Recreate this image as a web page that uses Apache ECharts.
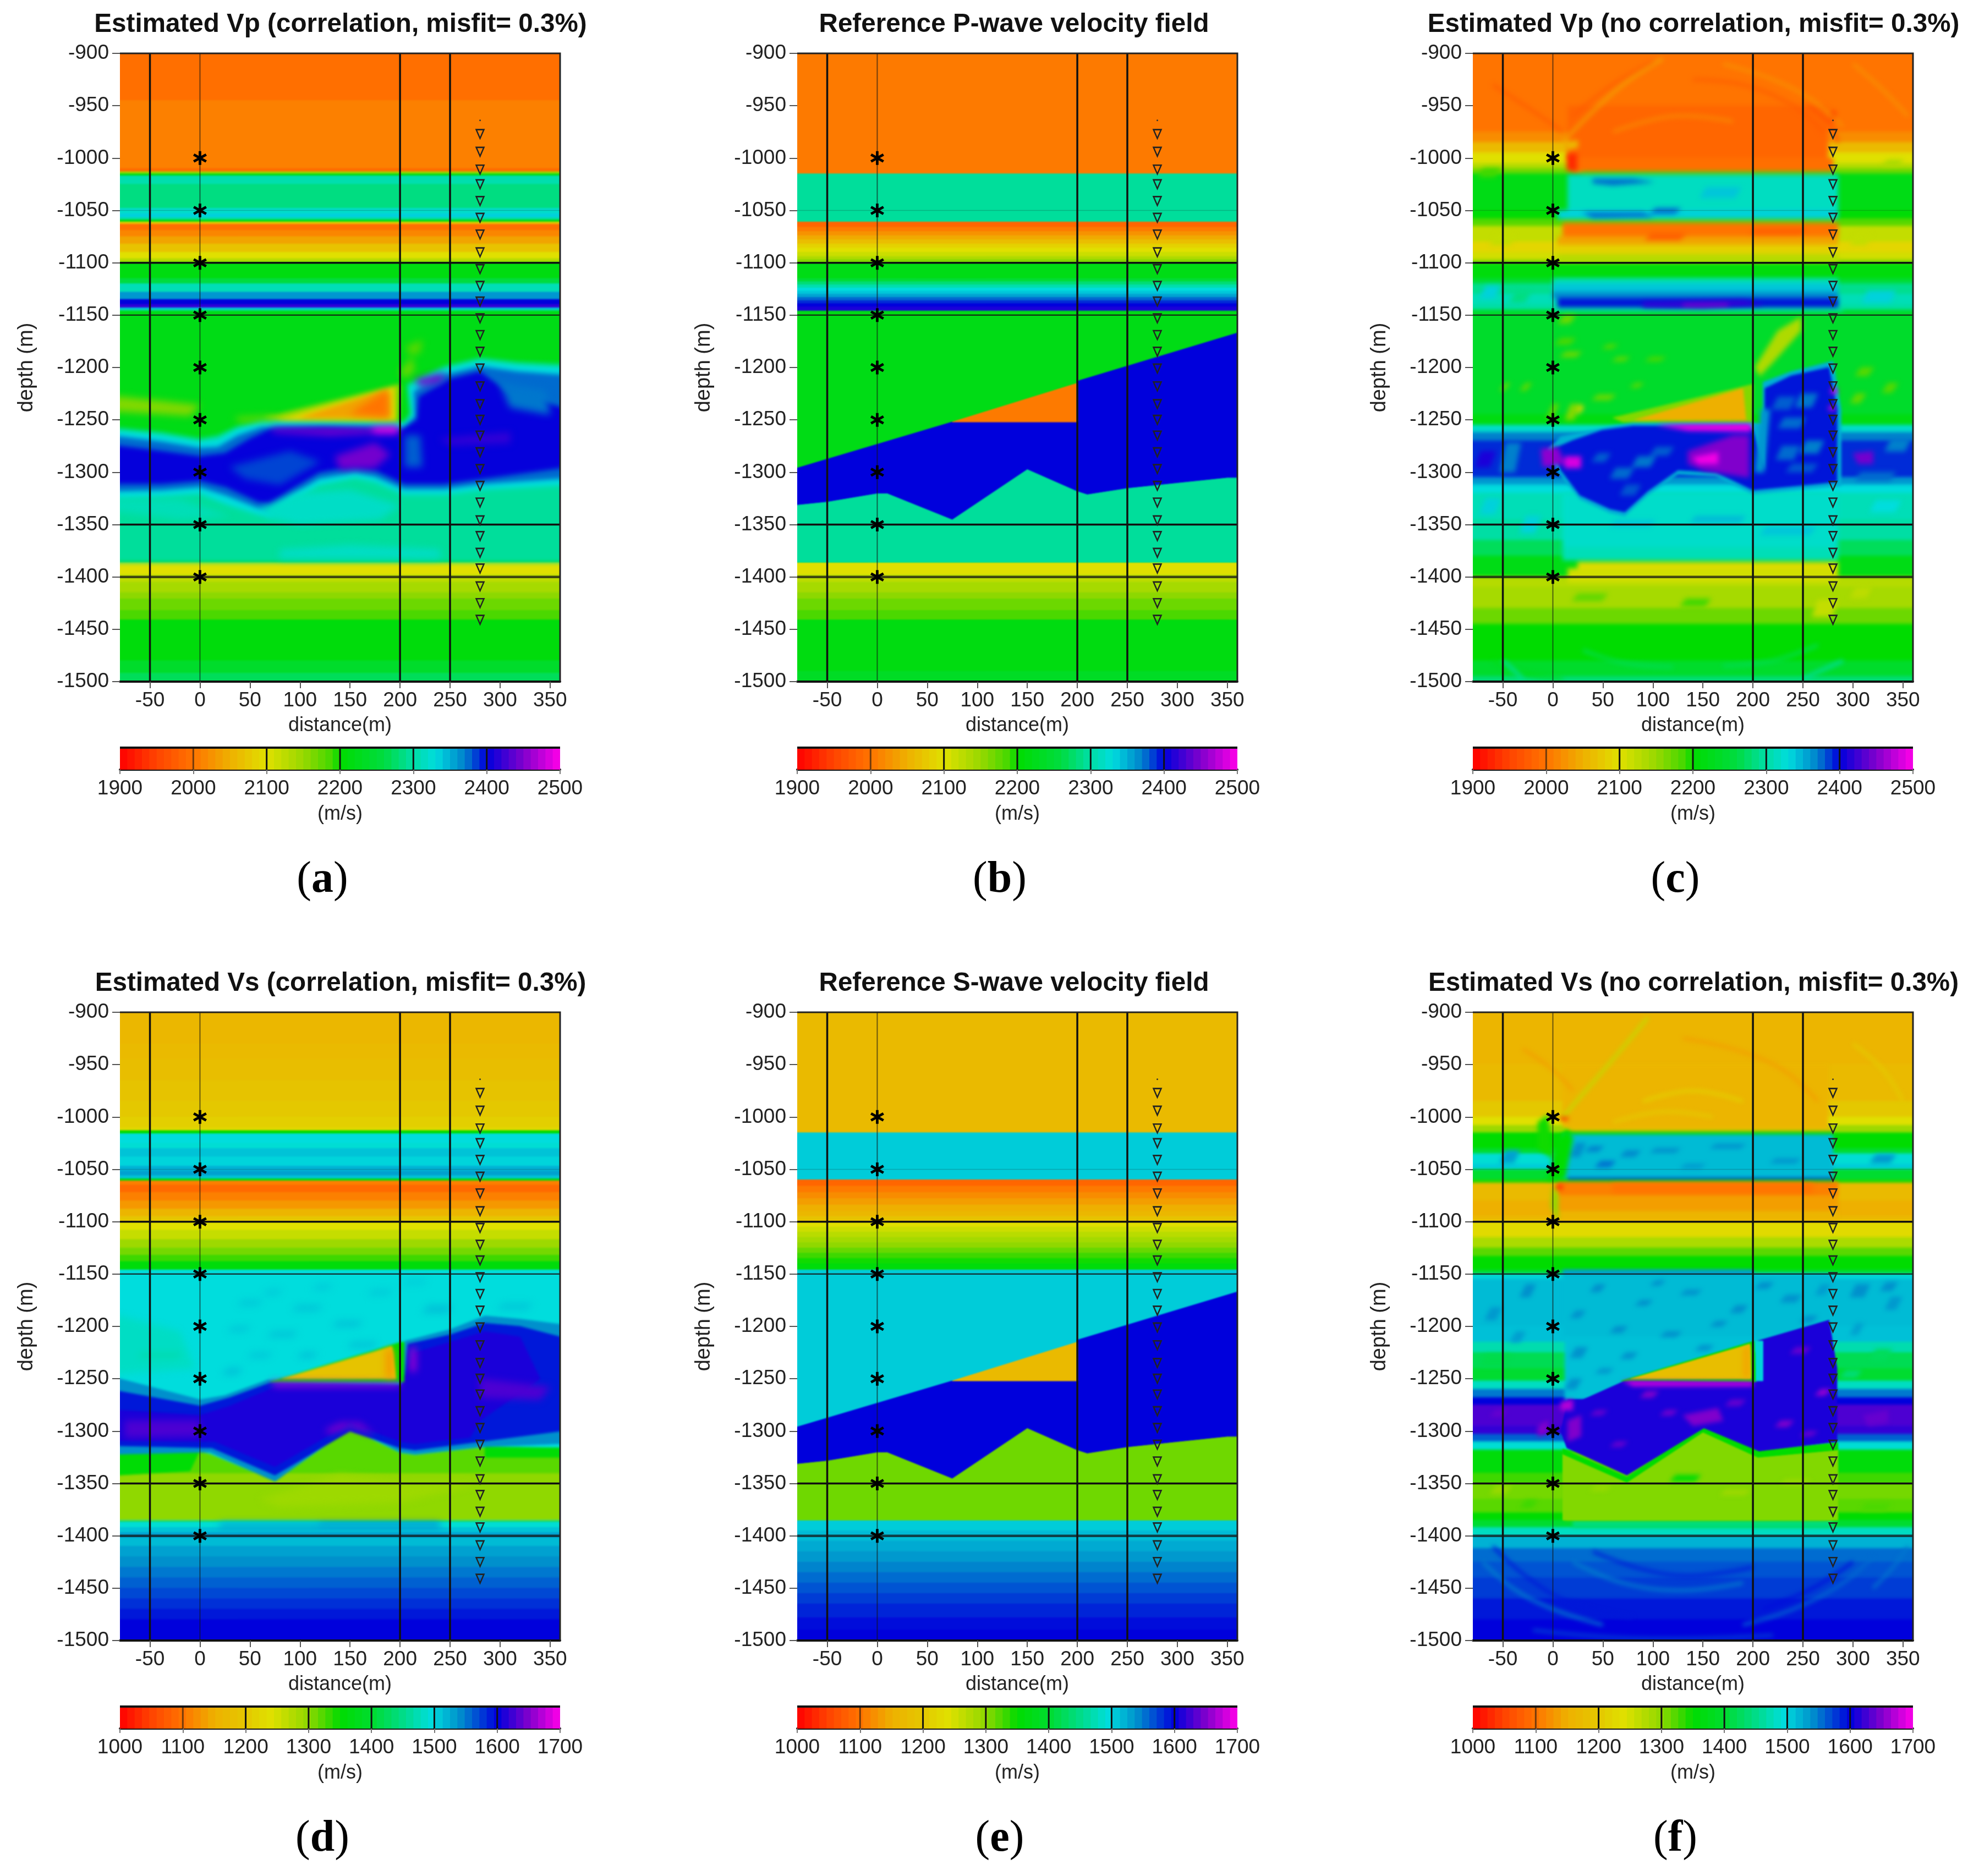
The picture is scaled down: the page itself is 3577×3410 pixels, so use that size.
<!DOCTYPE html>
<html>
<head>
<meta charset="utf-8">
<title>Velocity fields</title>
<script src="https://cdn.jsdelivr.net/npm/echarts@6/dist/echarts.min.js"></script>
<style>
	html, body {margin: 0; padding: 0; background: #fff;}
	#page {position: relative; width: 3577px; height: 3410px; overflow: hidden;}
	#main {position: absolute; left: 0; top: 0; width: 3577px; height: 3410px; z-index: 2;}
	.field {position: absolute; overflow: hidden; z-index: 1;}
	.layer {position: absolute;}
</style>
</head>
<body>
<div id="page"><div id="main"></div></div>
<script>
// tick labels
const xTicks = [-50, 0, 50, 100, 150, 200, 250, 300, 350];
const vpTicks = [1900, 2000, 2100, 2200, 2300, 2400, 2500];
const vsTicks = [1000, 1100, 1200, 1300, 1400, 1500, 1600, 1700];

// sources and receivers
const sourceDepths = [-1000, -1050, -1100, -1150, -1200, -1250, -1300, -1350, -1400];
const receiverDepths = [-977, -994, -1011, -1025, -1041, -1057, -1073, -1090, -1106, -1122, -1137, -1153, -1169, -1185, -1201, -1218, -1235, -1250, -1265, -1281, -1297, -1313, -1329, -1346, -1361, -1377, -1392, -1409, -1425, -1441];

// colour scale, velocity -> colour
const vpStops = [[1900, '#ff0000'], [1950, '#ff4400'], [2000, '#ff7400'], [2050, '#eeb000'], [2100, '#e0e000'], [2150, '#98d800'], [2190, '#40d800'], [2200, '#00dc00'], [2260, '#00dc40'], [2295, '#00de9b'], [2330, '#00dddd'], [2370, '#0080cc'], [2400, '#0000dc'], [2450, '#8000cc'], [2500, '#ff00e8']];
const vsStops = [[1000, '#ff0000'], [1050, '#ff4400'], [1100, '#ff7400'], [1150, '#eeb000'], [1200, '#e4c800'], [1240, '#e0e000'], [1300, '#90d800'], [1335, '#30d800'], [1350, '#00dc00'], [1400, '#00dc30'], [1450, '#00dc88'], [1495, '#00dddd'], [1540, '#0090cc'], [1600, '#0000dc'], [1650, '#8000cc'], [1700, '#ff00e8']];

// (b) reference Vp: band tops and velocities
const bTops = [-900, -1015, -1061, -1066, -1070, -1074, -1078, -1082, -1086, -1090, -1094, -1097, -1100, -1115, -1118, -1121, -1124, -1127, -1130, -1133, -1136, -1139, -1142, -1146, -1386, -1398, -1405, -1415, -1421, -1432, -1441, -1490];
const bVels = [2005, 2295, 1985, 2005, 2025, 2045, 2065, 2085, 2100, 2115, 2135, 2160, 2220, 2250, 2280, 2305, 2330, 2340, 2355, 2375, 2390, 2400, 2410, 2220, 2100, 2125, 2140, 2155, 2170, 2185, 2215, 2235];
const bBlobs = [
	[2295, [[-80, -1331], [-50, -1328], [0, -1320], [10, -1320], [75, -1345], [150, -1297], [200, -1318], [210, -1321], [250, -1315], [300, -1310], [350, -1305], [360, -1305], [360, -1386], [-80, -1386]]],
	[2400, [[-80, -1296], [75, -1252], [200, -1252], [200, -1213], [360, -1167], [360, -1305], [350, -1305], [300, -1310], [250, -1315], [210, -1321], [200, -1318], [150, -1297], [75, -1345], [10, -1320], [0, -1320], [-50, -1328], [-80, -1331]]],
	[2005, [[75, -1252], [200, -1215], [200, -1252]]]
];

// (e) reference Vs
const eTops = [-900, -1015, -1060, -1066, -1072, -1078, -1084, -1090, -1095, -1100, -1105, -1110, -1115, -1120, -1125, -1130, -1135, -1140, -1146, -1385, -1395, -1405, -1415, -1425, -1435, -1445, -1455, -1465, -1478, -1490];
const eVels = [1170, 1505, 1085, 1105, 1120, 1135, 1150, 1165, 1190, 1240, 1255, 1270, 1285, 1300, 1315, 1330, 1345, 1360, 1505, 1505, 1515, 1525, 1535, 1545, 1555, 1565, 1575, 1585, 1595, 1600];
const eBlobs = [
	[1312, [[-80, -1331], [-50, -1328], [0, -1320], [10, -1320], [75, -1345], [150, -1297], [200, -1318], [210, -1321], [250, -1315], [300, -1310], [350, -1305], [360, -1305], [360, -1385], [-80, -1385]]],
	[1600, [[-80, -1296], [75, -1252], [200, -1252], [200, -1213], [360, -1167], [360, -1305], [350, -1305], [300, -1310], [250, -1315], [210, -1321], [200, -1318], [150, -1297], [75, -1345], [10, -1320], [0, -1320], [-50, -1328], [-80, -1331]]],
	[1170, [[75, -1252], [200, -1215], [200, -1252]]]
];

// (a) estimated Vp, correlation
const aTops = [-900, -945, -1010, -1013, -1015, -1017, -1025, -1048, -1053, -1057, -1059, -1061, -1063, -1069, -1075, -1082, -1090, -1096, -1099, -1100, -1115, -1120, -1128, -1135, -1140, -1143, -1145, -1146, -1386, -1398, -1405, -1415, -1421, -1432, -1441, -1480, -1492];
const aVels = [1995, 2010, 1990, 2150, 2220, 2305, 2285, 2320, 2335, 2300, 2220, 2080, 1995, 2015, 2040, 2070, 2100, 2130, 2170, 2215, 2260, 2310, 2360, 2400, 2420, 2340, 2290, 2220, 2100, 2125, 2140, 2155, 2170, 2185, 2210, 2240, 2270];
const aBlobs = [
	[2295, [[-80, -1300], [360, -1300], [360, -1386], [-80, -1386]]],
	[2300, [[-80, -1258], [-38, -1262], [0, -1268], [18, -1265], [38, -1256], [62, -1250], [123, -1251], [204, -1252], [210, -1244], [207, -1216], [244, -1199], [280, -1191], [317, -1195], [360, -1197], [360, -1316], [284, -1320], [244, -1325], [204, -1325], [175, -1313], [155, -1309], [119, -1316], [91, -1333], [70, -1346], [58, -1344], [26, -1334], [0, -1324], [-38, -1328], [-80, -1330]]],
	[2330, [[-80, -1261], [-38, -1265], [0, -1271], [18, -1269], [38, -1259], [62, -1252], [123, -1253], [204, -1254], [212, -1246], [209, -1219], [244, -1202], [280, -1194], [317, -1198], [360, -1200], [360, -1312], [284, -1316], [244, -1321], [204, -1321], [175, -1309], [155, -1305], [119, -1312], [91, -1329], [70, -1342], [58, -1340], [26, -1330], [0, -1320], [-38, -1323], [-80, -1325]]],
	[2375, [[-80, -1266], [-38, -1271], [0, -1277], [18, -1276], [38, -1265], [62, -1257], [123, -1256], [204, -1257], [215, -1247], [214, -1223], [244, -1207], [280, -1199], [317, -1204], [360, -1207], [360, -1306], [284, -1311], [244, -1316], [204, -1316], [175, -1304], [155, -1300], [119, -1306], [91, -1322], [70, -1336], [58, -1334], [26, -1322], [0, -1314], [-38, -1317], [-80, -1318]]],
	[2402, [[-80, -1275], [-38, -1280], [0, -1285], [25, -1282], [50, -1268], [70, -1259], [123, -1258], [200, -1260], [217, -1250], [219, -1228], [250, -1211], [280, -1204], [305, -1222], [360, -1238], [360, -1296], [284, -1306], [244, -1311], [204, -1311], [175, -1298], [155, -1294], [119, -1300], [91, -1316], [70, -1330], [58, -1328], [26, -1314], [0, -1308], [-38, -1311], [-80, -1311]]],
	[2150, [[64, -1248], [200, -1216], [198, -1252], [80, -1251]]],
	[2090, [[80, -1250], [194, -1218], [195, -1250]]],
	[2040, [[100, -1248], [188, -1221], [190, -1248]]]
];
const aSoft = [
	[2318, [[60, -1335], [100, -1320], [150, -1317], [200, -1332], [180, -1345], [100, -1350], [70, -1344]]],
	[2310, [[-80, -1325], [-20, -1326], [30, -1342], [-20, -1345], [-80, -1338]]],
	[2318, [[80, -1374], [150, -1370], [240, -1374], [240, -1382], [80, -1382]]],
	[2384, [[30, -1295], [90, -1280], [120, -1290], [80, -1312], [45, -1306]]],
	[2378, [[205, -1265], [220, -1265], [222, -1295], [205, -1295]]],
	[2372, [[300, -1215], [345, -1222], [350, -1245], [310, -1238]]],
	[2445, [[70, -1258], [175, -1258], [195, -1262], [130, -1265], [75, -1262]]],
	[2495, [[172, -1257], [198, -1256], [198, -1263], [174, -1263]]],
	[2445, [[135, -1285], [175, -1272], [190, -1283], [175, -1296], [140, -1297]]],
	[2445, [[215, -1212], [245, -1205], [240, -1214], [220, -1218]]],
	[2420, [[240, -1268], [310, -1262], [310, -1272], [250, -1274]]],
	[2160, [[-80, -1228], [0, -1236], [-10, -1246], [-80, -1242]]],
	[2170, [[35, -1248], [75, -1246], [75, -1250], [40, -1252]]],
	[2170, [[200, -1205], [212, -1190], [214, -1203], [205, -1210]]],
	[2180, [[206, -1180], [222, -1174], [220, -1186], [210, -1188]]],
	[2000, [[150, -1244], [183, -1224], [188, -1224], [188, -1247]]]
];

// (c) estimated Vp, no correlation: side bands, then the better resolved centre on top
const cTops = [-900, -975, -985, -995, -1005, -1010, -1015, -1050, -1058, -1065, -1080, -1090, -1097, -1100, -1115, -1120, -1130, -1140, -1145, -1245, -1255, -1262, -1270, -1300, -1305, -1312, -1320, -1345, -1365, -1380, -1400, -1410, -1430, -1445, -1480, -1495];
const cVels = [2000, 2020, 2060, 2100, 2130, 2170, 2220, 2205, 2180, 2120, 2090, 2110, 2150, 2210, 2250, 2290, 2310, 2300, 2240, 2215, 2320, 2370, 2390, 2390, 2360, 2330, 2310, 2300, 2270, 2220, 2130, 2140, 2170, 2200, 2240, 2280];
const cCentre = [
	[15, 275, -950, -1000, 1985],
	[20, 280, -1000, -1013, 1995],
	[30, 280, -1013, -1016, 2190],
	[15, 285, -1016, -1057, 2315],
	[5, 285, -1050, -1058, 2335],
	[10, 285, -1059, -1062, 2180],
	[10, 285, -1062, -1075, 2000],
	[5, 285, -1075, -1083, 2040],
	[5, 285, -1083, -1092, 2085],
	[5, 285, -1092, -1099, 2130],
	[0, 285, -1115, -1120, 2310],
	[0, 285, -1120, -1128, 2340],
	[0, 285, -1128, -1134, 2365],
	[5, 285, -1134, -1143, 2395],
	[0, 290, -1143, -1146, 2300],
	[10, 285, -1320, -1372, 2320],
	[10, 285, -1372, -1384, 2310],
	[25, 285, -1386, -1392, 2095],
	[15, 285, -1392, -1405, 2110]
];
const cBlobs = [
	[2350, [[8, -1266], [60, -1256], [80, -1253], [200, -1253], [210, -1255], [210, -1214], [238, -1204], [280, -1194], [288, -1240], [288, -1313], [276, -1314], [200, -1321], [163, -1304], [125, -1302], [95, -1322], [72, -1342], [57, -1339], [27, -1326], [5, -1300], [-5, -1278]]],
	[2395, [[19, -1270], [49, -1260], [80, -1256], [195, -1256], [200, -1260], [212, -1300], [212, -1220], [238, -1208], [276, -1200], [284, -1240], [284, -1309], [276, -1310], [200, -1317], [163, -1300], [125, -1298], [95, -1318], [72, -1338], [57, -1335], [27, -1322], [8, -1298], [0, -1278]]],
	[2160, [[60, -1248], [200, -1216], [199, -1252], [70, -1252]]],
	[2050, [[82, -1250], [190, -1220], [193, -1250]]]
];
const cSoft = [
	[2420, [[90, -1138], [190, -1136], [210, -1140], [150, -1143], [90, -1142]]],
	[2450, [[130, -1139], [175, -1139], [175, -1142], [130, -1142]]],
	[2375, [[40, -1020], [80, -1020], [100, -1023], [60, -1026], [40, -1024]]],
	[2375, [[30, -1052], [90, -1052], [100, -1056], [40, -1057]]],
	[1930, [[14, -996], [24, -996], [24, -1012], [14, -1012]]],
	[2060, [[12, -985], [25, -983], [25, -990], [14, -992]]],
	[1950, [[277, -955], [283, -955], [283, -965], [277, -965]]],
	[2455, [[-12, -1278], [5, -1276], [12, -1292], [-10, -1295]]],
	[2485, [[12, -1285], [28, -1285], [28, -1296], [12, -1296]]],
	[2450, [[135, -1280], [180, -1265], [196, -1265], [196, -1305], [150, -1298], [135, -1292]]],
	[2495, [[140, -1286], [165, -1281], [165, -1292], [145, -1292]]],
	[2498, [[105, -1255], [198, -1254], [198, -1261], [135, -1260]]],
	[2445, [[300, -1282], [320, -1280], [320, -1292], [305, -1292]]],
	[2480, [[278, -1220], [284, -1220], [284, -1225], [278, -1225]]],
	[2480, [[276, -1237], [282, -1237], [282, -1241], [276, -1241]]],
	[2135, [[202, -1200], [225, -1165], [248, -1152], [248, -1165], [220, -1195], [207, -1208]]],
	[2090, [[25, -1245], [30, -1240], [30, -1236], [25, -1236]]]
];
const cSpecks = [
	[8, 20, -1150, -1158, 2170], [5, 20, -1172, -1178, 2185], [10, 26, -1185, -1190, 2170], [52, 62, -1178, -1182, 2180],
	[62, 74, -1190, -1194, 2175], [-30, -24, -1215, -1222, 2175], [-50, -46, -1215, -1222, 2165], [42, 60, -1226, -1231, 2170],
	[15, 24, -1235, -1250, 2160], [-3, 3, -1235, -1248, 2175], [95, 110, -1190, -1194, 2185], [80, 88, -1215, -1219, 2175],
	[305, 318, -1200, -1208, 2180], [332, 342, -1215, -1224, 2180], [300, 310, -1225, -1234, 2175], [-70, -55, -1325, -1340, 2335],
	[-30, -15, -1342, -1358, 2335], [320, 345, -1327, -1338, 2330], [60, 100, -1346, -1352, 2340], [140, 190, -1342, -1348, 2345],
	[210, 260, -1352, -1360, 2340], [-72, -55, -1010, -1018, 2190], [332, 348, -1002, -1007, 2140], [300, 316, -1072, -1083, 2120],
	[-60, -40, -1072, -1083, 2120], [-70, -55, -1122, -1134, 2335], [-40, -25, -1127, -1138, 2285], [312, 340, -1127, -1138, 2335],
	[22, 52, -1416, -1423, 2175], [130, 155, -1421, -1428, 2190], [262, 282, -1422, -1438, 2120], [300, 316, -1410, -1420, 2125],
	[-75, -60, -1280, -1295, 2410], [-50, -35, -1272, -1300, 2370], [305, 340, -1300, -1308, 2375], [335, 355, -1268, -1280, 2370],
	[100, 125, -1048, -1053, 2375], [150, 185, -1028, -1038, 2340], [95, 130, -1072, -1078, 1975], [200, 250, -1068, -1072, 1975],
	[222, 240, -1228, -1240, 2378], [245, 262, -1225, -1238, 2372], [228, 250, -1248, -1258, 2375], [226, 244, -1275, -1288, 2375], [250, 268, -1270, -1282, 2370],
	[236, 262, -1292, -1300, 2380], [60, 78, -1296, -1306, 2375], [82, 100, -1285, -1295, 2372], [100, 118, -1276, -1284, 2378], [70, 85, -1312, -1322, 2380],
	[42, 55, -1282, -1290, 2378], [205, 214, -1240, -1300, 2360]
];
const cRipples = [
	[2040, [[10, -985], [35, -960], [70, -930], [110, -905]]],
	[1975, [[20, -960], [60, -930], [100, -908]]],
	[1975, [[-60, -930], [-20, -955], [10, -975]]],
	[1975, [[140, -925], [190, -930], [240, -950], [270, -975]]],
	[2025, [[170, -910], [220, -925], [260, -945], [290, -970]]],
	[1965, [[255, -950], [275, -965], [285, -985]]],
	[2025, [[300, -910], [330, -935], [355, -960]]],
	[2020, [[60, -975], [120, -960], [180, -965]]],
	[2220, [[-60, -1480], [-30, -1492], [10, -1497]]],
	[2270, [[30, -1470], [70, -1482], [120, -1486]]],
	[2270, [[170, -1485], [220, -1480], [265, -1465]]],
	[2310, [[-50, -1480], [-30, -1497]]],
	[2310, [[250, -1497], [290, -1480]]]
];

// (d) estimated Vs, correlation
const dTops = [-900, -930, -945, -965, -985, -1000, -1010, -1013, -1016, -1025, -1030, -1038, -1047, -1052, -1056, -1059, -1061, -1065, -1072, -1080, -1088, -1095, -1100, -1108, -1117, -1125, -1132, -1138, -1146, -1385, -1387, -1392, -1397, -1402, -1410, -1420, -1430, -1440, -1450, -1460, -1470, -1480];
const dVels = [1165, 1170, 1180, 1190, 1200, 1212, 1225, 1350, 1495, 1490, 1510, 1500, 1520, 1530, 1510, 1370, 1110, 1090, 1110, 1130, 1160, 1195, 1240, 1260, 1290, 1310, 1330, 1360, 1495, 1450, 1490, 1510, 1530, 1515, 1530, 1540, 1550, 1560, 1570, 1580, 1590, 1600];
const dBlobs = [
	[1300, [[-80, -1340], [360, -1340], [360, -1385], [-80, -1385]]],
	[1320, [[-80, -1320], [0, -1320], [10, -1322], [75, -1348], [150, -1298], [200, -1321], [215, -1323], [280, -1316], [360, -1318], [360, -1340], [-80, -1340]]],
	[1355, [[-80, -1318], [0, -1318], [-10, -1338], [-80, -1342]]],
	[1355, [[285, -1315], [360, -1316], [360, -1325], [285, -1325]]],
	[1540, [[-80, -1250], [0, -1270], [25, -1266], [68, -1251], [204, -1252], [205, -1214], [250, -1203], [285, -1190], [320, -1193], [360, -1198], [360, -1312], [280, -1315], [215, -1322], [200, -1320], [150, -1296], [75, -1348], [10, -1320], [-80, -1322]]],
	[1590, [[-80, -1262], [0, -1276], [30, -1268], [70, -1254], [204, -1256], [208, -1217], [250, -1208], [285, -1197], [320, -1200], [360, -1210], [360, -1300], [280, -1310], [215, -1318], [200, -1316], [150, -1300], [75, -1342], [12, -1316], [-80, -1314]]],
	[1610, [[-80, -1280], [0, -1285], [30, -1276], [75, -1258], [200, -1258], [215, -1225], [285, -1205], [320, -1210], [340, -1250], [280, -1290], [270, -1306], [215, -1312], [200, -1310], [150, -1292], [75, -1334], [15, -1310], [-80, -1309]]],
	[1350, [[70, -1253], [201, -1215], [204, -1215], [204, -1253]]],
	[1190, [[82, -1250], [192, -1219], [196, -1250]]]
];
const dSoft = [
	[1482, [[-80, -1190], [-20, -1205], [-5, -1240], [-80, -1245]]],
	[1290, [[60, -1365], [140, -1342], [210, -1350], [280, -1350], [200, -1368], [80, -1372]]],
	[1630, [[-75, -1290], [0, -1290], [0, -1305], [-75, -1306]]],
	[1645, [[125, -1299], [140, -1292], [160, -1292], [175, -1304], [150, -1296], [130, -1303]]],
	[1660, [[210, -1220], [216, -1220], [216, -1243], [210, -1243]]],
	[1630, [[280, -1250], [350, -1258], [340, -1270], [280, -1268]]],
	[1675, [[70, -1253], [200, -1254], [200, -1257], [75, -1257]]],
	[1130, [[186, -1222], [193, -1222], [193, -1248], [186, -1248]]],
	[1525, [[20, -1388], [120, -1388], [120, -1394], [20, -1394]]],
	[1555, [[120, -1388], [240, -1388], [240, -1391], [120, -1391]]]
];
const dSpecks = [
	[40, 60, -1175, -1180, 1508], [95, 120, -1180, -1185, 1510], [170, 190, -1165, -1170, 1506], [30, 48, -1200, -1205, 1508],
	[70, 95, -1205, -1210, 1510], [135, 160, -1195, -1200, 1512], [225, 250, -1180, -1187, 1512], [50, 70, -1225, -1230, 1508],
	[-60, -20, -1225, -1230, 1470], [300, 330, -1178, -1184, 1508], [65, 80, -1165, -1170, 1506], [115, 130, -1160, -1165, 1506],
	[150, 175, -1215, -1220, 1510], [25, 40, -1240, -1246, 1512], [205, 225, -1155, -1160, 1504], [100, 115, -1225, -1230, 1512]
];

// (f) estimated Vs, no correlation
const fTops = [-900, -950, -985, -1000, -1008, -1015, -1030, -1035, -1045, -1050, -1060, -1063, -1080, -1095, -1100, -1115, -1125, -1133, -1146, -1150, -1155, -1200, -1215, -1225, -1240, -1252, -1260, -1268, -1275, -1295, -1303, -1310, -1318, -1340, -1350, -1365, -1378, -1385, -1392, -1400, -1412, -1425, -1440, -1460, -1480];
const fVels = [1160, 1170, 1200, 1240, 1290, 1350, 1400, 1490, 1505, 1400, 1340, 1170, 1150, 1170, 1230, 1280, 1320, 1350, 1400, 1500, 1515, 1512, 1470, 1420, 1400, 1480, 1550, 1600, 1630, 1620, 1560, 1490, 1360, 1330, 1310, 1320, 1350, 1400, 1480, 1520, 1555, 1565, 1575, 1590, 1600];
const fCentre = [
	[10, 275, -950, -1010, 1160],
	[15, 280, -1010, -1014, 1175],
	[12, 280, -1014, -1017, 1350],
	[10, 280, -1017, -1058, 1515],
	[15, 280, -1058, -1060, 1570],
	[5, 280, -1060, -1062, 1350],
	[5, 285, -1062, -1075, 1110],
	[5, 285, -1075, -1090, 1135],
	[5, 285, -1090, -1099, 1160],
	[10, 200, -1146, -1150, 1535],
	[10, 280, -1150, -1210, 1515],
	[12, 200, -1210, -1270, 1512],
	[12, 280, -1320, -1385, 1320],
	[20, 280, -1386, -1392, 1445]
];
const fBlobs = [
	[1305, [[10, -1318], [75, -1345], [150, -1298], [200, -1321], [215, -1324], [285, -1316], [285, -1385], [10, -1385]]],
	[1350, [[10, -1317], [74, -1344], [150, -1296], [205, -1319], [285, -1311], [285, -1318], [205, -1325], [150, -1301], [74, -1349], [10, -1322]]],
	[1610, [[15, -1270], [30, -1270], [72, -1252], [204, -1253], [204, -1214], [276, -1194], [284, -1240], [284, -1310], [206, -1319], [151, -1297], [74, -1342], [14, -1316], [8, -1300]]],
	[1350, [[68, -1252], [201, -1214], [203, -1253]]],
	[1180, [[78, -1250], [197, -1217], [198, -1250]]],
	[1500, [[203, -1214], [210, -1214], [210, -1252], [203, -1252]]]
];
const fSoft = [
	[1350, [[-5, -1060], [5, -1020], [15, -1012], [20, -1020], [12, -1058]]],
	[1345, [[-15, -1005], [-5, -998], [0, -1040], [-15, -1030]]],
	[1670, [[8, -1272], [20, -1270], [20, -1280], [8, -1280]]],
	[1650, [[15, -1290], [28, -1285], [28, -1305], [15, -1310]]],
	[1650, [[130, -1285], [165, -1278], [170, -1290], [140, -1295]]],
	[1650, [[-15, -1295], [-5, -1290], [-5, -1302], [-15, -1305]]],
	[1640, [[310, -1285], [335, -1280], [335, -1292], [315, -1295]]],
	[1680, [[70, -1252], [200, -1253], [200, -1257], [80, -1257]]],
	[1145, [[190, -1222], [197, -1218], [197, -1248], [190, -1248]]],
	[1040, [[7, -1000], [15, -1000], [15, -1003], [7, -1003]]],
	[1040, [[3, -1065], [10, -1065], [10, -1069], [3, -1069]]],
	[1300, [[0, -1065], [5, -1075], [5, -1100], [-2, -1085]]],
	[1100, [[60, -1064], [260, -1064], [260, -1072], [60, -1072]]]
];
const fSpecks = [
	[35, 48, -1028, -1033, 1545], [45, 60, -1042, -1048, 1552], [20, 30, -1025, -1038, 1540], [100, 125, -1030, -1034, 1540], [160, 190, -1026, -1030, 1538],
	[220, 245, -1040, -1044, 1538], [70, 85, -1032, -1038, 1542], [130, 150, -1045, -1049, 1535], [-50, -36, -1032, -1044, 1530], [320, 340, -1036, -1044, 1535],
	[-30, -20, -1160, -1172, 1540], [300, 314, -1160, -1172, 1540], [335, 346, -1172, -1184, 1535], [40, 50, -1160, -1167, 1540], [85, 97, -1175, -1180, 1540],
	[130, 146, -1165, -1170, 1538], [180, 192, -1180, -1187, 1540], [230, 246, -1170, -1177, 1538], [60, 72, -1200, -1206, 1540], [110, 126, -1205, -1210, 1540],
	[20, 32, -1220, -1230, 1538], [160, 172, -1195, -1200, 1540], [-65, -54, -1182, -1194, 1535], [300, 308, -1197, -1208, 1530], [15, 26, -1250, -1260, 1538],
	[320, 336, -1222, -1232, 1425], [-70, -45, -1227, -1238, 1415], [290, 306, -1242, -1249, 1440], [40, 56, -1352, -1357, 1295], [170, 195, -1356, -1361, 1290],
	[230, 255, -1346, -1351, 1295], [-60, -44, -1352, -1360, 1295], [120, 145, -1342, -1348, 1355], [-30, -18, -1366, -1373, 1330], [310, 335, -1369, -1376, 1325],
	[20, 30, -1185, -1192, 1538], [70, 82, -1225, -1231, 1538], [100, 110, -1156, -1161, 1538], [145, 158, -1218, -1223, 1538], [205, 218, -1158, -1164, 1540],
	[250, 262, -1190, -1196, 1538], [45, 58, -1240, -1245, 1535], [-40, -30, -1205, -1215, 1532], [330, 342, -1158, -1166, 1540], [265, 275, -1160, -1170, 1532],
	[90, 103, -1262, -1268, 1650], [40, 52, -1280, -1285, 1640], [175, 190, -1270, -1276, 1640], [240, 255, -1220, -1226, 1640], [225, 238, -1290, -1296, 1650],
	[265, 275, -1260, -1266, 1660], [60, 72, -1310, -1315, 1640], [250, 262, -1300, -1305, 1640], [110, 122, -1280, -1285, 1645], [-60, -48, -1280, -1286, 1640]
];
const fRipples = [
	[1265, [[10, -1000], [30, -978], [60, -945], [95, -905]]],
	[1135, [[130, -925], [180, -935], [230, -955], [265, -985]]],
	[1135, [[-30, -935], [0, -955], [20, -975]]],
	[1215, [[90, -985], [140, -975], [190, -985]]],
	[1205, [[60, -1005], [110, -995], [160, -1000]]],
	[1205, [[300, -930], [330, -955], [350, -985]]],
	[1545, [[-70, -1425], [-40, -1450], [0, -1470], [50, -1485]]],
	[1590, [[-60, -1410], [-25, -1440], [20, -1465], [80, -1478]]],
	[1545, [[20, -1425], [70, -1445], [130, -1452], [190, -1445]]],
	[1590, [[40, -1415], [90, -1432], [140, -1438], [200, -1430]]],
	[1555, [[190, -1485], [240, -1470], [290, -1445], [320, -1420]]],
	[1595, [[210, -1470], [260, -1450], [300, -1425]]],
	[1570, [[-20, -1490], [60, -1497], [140, -1498], [220, -1495]]],
	[1550, [[320, -1450], [340, -1430], [355, -1410]]]
];

// layout of the figure
const plotLeft = [218, 1449, 2677];
const rowTop = [97, 1840];
const plotW = 800, plotH = 1142, barGap = 1262, barH = 40, PAD = 40;
const FONT = '"Liberation Sans", Arial, sans-serif';

const panels = [
	{title: 'Estimated Vp (correlation, misfit= 0.3%)', tag: 'a', col: 0, row: 0, tops: aTops, vels: aVels, blobs: aBlobs, soft: aSoft, stops: vpStops, css: [1.5, 0, 4, 7]},
	{title: 'Reference P-wave velocity field', tag: 'b', col: 1, row: 0, tops: bTops, vels: bVels, blobs: bBlobs, stops: vpStops, css: [0.8, 0, 0.8, 0]},
	{title: 'Estimated Vp (no correlation, misfit= 0.3%)', tag: 'c', col: 2, row: 0, tops: cTops, vels: cVels, centre: cCentre, blobs: cBlobs, soft: cSoft, specks: cSpecks, ripples: cRipples, stops: vpStops, css: [3, 4, 2.5, 5]},
	{title: 'Estimated Vs (correlation, misfit= 0.3%)', tag: 'd', col: 0, row: 1, tops: dTops, vels: dVels, blobs: dBlobs, soft: dSoft, specks: dSpecks, stops: vsStops, css: [1.5, 0, 2.2, 7]},
	{title: 'Reference S-wave velocity field', tag: 'e', col: 1, row: 1, tops: eTops, vels: eVels, blobs: eBlobs, stops: vsStops, css: [0.8, 0, 0.8, 0]},
	{title: 'Estimated Vs (no correlation, misfit= 0.3%)', tag: 'f', col: 2, row: 1, tops: fTops, vels: fVels, centre: fCentre, blobs: fBlobs, soft: fSoft, specks: fSpecks, ripples: fRipples, stops: vsStops, css: [2.5, 3, 1.5, 4]}
];

function velColor(v, stops) {
	if (v <= stops[0][0]) return stops[0][1];
	for (let i = 1; i < stops.length; i++) {
		if (v <= stops[i][0]) {
			let t = (v - stops[i - 1][0]) / (stops[i][0] - stops[i - 1][0]);
			return echarts.color.lerp(t, [stops[i - 1][1], stops[i][1]]);
		}
	}
	return stops[stops.length - 1][1];
}

function rectPts(x0, x1, top, bot) {
	return [[x0, top], [x1, top], [x1, bot], [x0, bot]];
}

// a shape touching the frame runs on past it, so the blur has no white edge
function pastFrame(pts) {
	const out = [];
	const onEdge = function (q) {
		return q[0] === -80 || q[0] === 360;
	};
	const beyond = function (q) {
		return [q[0] === -80 ? -110 : (q[0] === 360 ? 390 : q[0]), q[1] === -900 ? -870 : (q[1] === -1500 ? -1530 : q[1])];
	};
	pts.forEach(function (q, i) {
		if (!onEdge(q)) {
			out.push(q);
			return;
		}
		let next = pts[(i + 1) % pts.length];
		if (onEdge(next) && next[0] === q[0]) {
			out.push(q, beyond(q));
		} else {
			out.push(beyond(q), q);
		}
	});
	return out;
}

function renderShape(list) {
	return function (params, api) {
		const s = list[params.dataIndex];
		if (s.line) {
			return {
				type: 'polyline', shape: {
					points: s.pts.map(function (q) {
						return api.coord(q);
					}), smooth: 0.4
				}, style: {fill: null, stroke: s.color, lineWidth: 5}
			};
		}
		const points = s.band ? s.pts.map(function (q) {
			return api.coord([q[0] === -80 ? -110 : 390, q[1] === -900 ? -870 : (q[1] === -1500 ? -1530 : q[1])]);
		}) : pastFrame(s.pts).map(function (q) {
			return api.coord(q);
		});
		return {type: 'polygon', shape: {points: points}, style: {fill: s.color, stroke: s.color, lineWidth: 1}};
	};
}

// one blurred sheet of the field, on the same axes as the frame above it
function addLayer(holder, shapes, blur) {
	if (!shapes.length) return;
	const d = document.createElement('div');
	d.className = 'layer';
	d.style.cssText = 'left:' + (-PAD) + 'px;top:' + (-PAD) + 'px;width:' + (plotW + 2 * PAD) + 'px;height:' + (plotH + 2 * PAD) + 'px;filter:blur(' + blur + 'px);';
	holder.appendChild(d);
	echarts.init(d, null, {renderer: 'canvas'}).setOption({
		animation: false,
		grid: {left: PAD, top: PAD, width: plotW, height: plotH, show: false},
		xAxis: {type: 'value', min: -80, max: 360, show: false},
		yAxis: {type: 'value', min: -1500, max: -900, show: false},
		series: [{
			type: 'custom', clip: false, silent: true, animation: false,
			renderItem: renderShape(shapes),
			data: shapes.map(function (s) {
				return s.pts[0];
			})
		}]
	});
}

function buildField(p) {
	const holder = document.createElement('div');
	holder.className = 'field';
	holder.style.cssText = 'left:' + plotLeft[p.col] + 'px;top:' + rowTop[p.row] + 'px;width:' + plotW + 'px;height:' + plotH + 'px;';
	document.getElementById('page').appendChild(holder);

	const bands = p.tops.map(function (top, i) {
		let bot = i + 1 < p.tops.length ? p.tops[i + 1] : -1500;
		return {pts: rectPts(-80, 360, top, bot), color: velColor(p.vels[i], p.stops), band: true};
	});
	const centre = (p.centre || []).map(function (c) {
		return {pts: rectPts(c[0], c[1], c[2], c[3]), color: velColor(c[4], p.stops)};
	});
	const blobs = p.blobs.map(function (b) {
		return {pts: b[1], color: velColor(b[0], p.stops)};
	});
	const soft = (p.soft || []).map(function (b) {
		return {pts: b[1], color: velColor(b[0], p.stops)};
	}).concat((p.specks || []).map(function (c) {
		return {pts: [[c[0] + 3, c[2]], [c[1] + 3, c[2]], [c[1] - 3, c[3]], [c[0] - 3, c[3]]], color: velColor(c[4], p.stops)};
	})).concat((p.ripples || []).map(function (r) {
		return {pts: r[1], color: velColor(r[0], p.stops), line: true};
	}));

	addLayer(holder, bands, p.css[0]);
	addLayer(holder, centre, p.css[1]);
	addLayer(holder, blobs, p.css[2]);
	addLayer(holder, soft, p.css[3]);
}

// grid lines of the plotting package, some stronger than others
const strongX = [-50, 200, 250], thinX = [0], strongY = [-1100, -1350, -1400], thinY = [-1150], faintY = [-1050];

function lineShapes() {
	const out = [];
	const add = function (from, to, lineWidth, color) {
		out.push({from: from, to: to, lineWidth: lineWidth, color: color});
	};
	strongX.forEach(function (x) {
		add([x, -900], [x, -1500], 3.5, '#111');
	});
	thinX.forEach(function (x) {
		add([x, -900], [x, -1500], 2, 'rgba(20,20,20,.6)');
	});
	strongY.forEach(function (y) {
		add([-80, y], [360, y], y === -1400 ? 4.5 : 3.5, y === -1400 ? 'rgba(20,20,20,.75)' : '#111');
	});
	thinY.forEach(function (y) {
		add([-80, y], [360, y], 2.5, 'rgba(20,20,20,.8)');
	});
	faintY.forEach(function (y) {
		add([-80, y], [360, y], 1.5, 'rgba(20,20,20,.2)');
	});
	return out;
}

function barSteps(ticks) {
	const lo = ticks[0], hi = ticks[ticks.length - 1], out = [];
	for (let i = 0; i < 60; i++) {
		out.push([lo + (hi - lo) * i / 60, lo + (hi - lo) * (i + 1) / 60]);
	}
	return out;
}

function plainNumber(v) {
	return String(v);
}

const STAR = 'path://M8.2 0H11.8V20H8.2Z M2.3 3.4L19.6 13.4L17.7 16.6L0.4 6.6Z M17.7 3.4L19.6 6.6L2.3 16.6L0.4 13.4Z';

const grid = [], xAxis = [], yAxis = [], series = [], title = [];

panels.forEach(function (p) {
	buildField(p);

	const left = plotLeft[p.col], top = rowTop[p.row];
	const ticks = p.row === 0 ? vpTicks : vsTicks;
	const g = grid.length;
	const centre = left + plotW / 2;

	// frame, axes and marks over the field
	grid.push({left: left, top: top, width: plotW, height: plotH, show: false});
	xAxis.push({
		gridIndex: g, type: 'value', min: -80, max: 360,
		name: 'distance(m)', nameLocation: 'middle', nameGap: 62,
		nameTextStyle: {fontFamily: FONT, fontSize: 36, color: '#222'},
		axisLine: {show: true, onZero: false, lineStyle: {color: '#111', width: 4}},
		axisTick: {show: true, length: 12, customValues: xTicks, lineStyle: {color: '#555', width: 2}},
		axisLabel: {margin: 16, customValues: xTicks, formatter: plainNumber, fontFamily: FONT, fontSize: 37, color: '#222'},
		splitLine: {show: false}
	});
	yAxis.push({
		gridIndex: g, type: 'value', min: -1500, max: -900, interval: 50,
		name: 'depth (m)', nameLocation: 'middle', nameGap: 150,
		nameTextStyle: {fontFamily: FONT, fontSize: 38, color: '#222'},
		axisLine: {show: false, onZero: false},
		axisTick: {show: true, length: 14, lineStyle: {color: '#555', width: 2}},
		axisLabel: {margin: 20, formatter: plainNumber, fontFamily: FONT, fontSize: 37, color: '#222'},
		splitLine: {show: false}
	});
	const lines = lineShapes();
	series.push({
		type: 'custom', xAxisIndex: g, yAxisIndex: g, clip: true, silent: true, animation: false, z: 2,
		renderItem: function (params, api) {
			const l = lines[params.dataIndex], a = api.coord(l.from), b = api.coord(l.to);
			return {type: 'line', shape: {x1: a[0], y1: a[1], x2: b[0], y2: b[1]}, style: {stroke: l.color, lineWidth: l.lineWidth}};
		},
		data: lines.map(function (l) {
			return l.from;
		})
	});
	series.push({
		type: 'scatter', xAxisIndex: g, yAxisIndex: g, silent: true, animation: false, z: 3,
		symbol: STAR, symbolSize: 25, itemStyle: {color: '#000', opacity: 1},
		data: sourceDepths.map(function (d) {
			return [0, d];
		})
	});
	series.push({
		type: 'scatter', xAxisIndex: g, yAxisIndex: g, silent: true, animation: false, z: 3,
		symbol: 'triangle', symbolRotate: 180, symbolSize: [14, 16],
		itemStyle: {color: 'transparent', borderColor: '#222', borderWidth: 2.5, opacity: 1},
		data: receiverDepths.map(function (d) {
			return [280, d];
		})
	});
	series.push({
		type: 'scatter', xAxisIndex: g, yAxisIndex: g, silent: true, animation: false, z: 3,
		symbol: 'circle', symbolSize: 3, itemStyle: {color: '#333', opacity: 1}, data: [[280, -964]]
	});

	// colour bar
	const h = grid.length;
	const steps = barSteps(ticks);
	grid.push({left: left, top: top + barGap, width: plotW, height: barH, show: false});
	xAxis.push({
		gridIndex: h, type: 'value', min: ticks[0], max: ticks[ticks.length - 1], interval: 100,
		name: '(m/s)', nameLocation: 'middle', nameGap: 63,
		nameTextStyle: {fontFamily: FONT, fontSize: 36, color: '#222'},
		axisLine: {show: true, onZero: false, lineStyle: {color: '#111', width: 4}},
		axisTick: {show: true, length: 8, lineStyle: {color: '#777', width: 2}},
		axisLabel: {margin: 16, formatter: plainNumber, fontFamily: FONT, fontSize: 37, color: '#222', showMinLabel: true, showMaxLabel: true},
		splitLine: {show: false}
	});
	yAxis.push({gridIndex: h, type: 'value', min: 0, max: 1, show: false, axisLine: {show: false}, splitLine: {show: false}});
	series.push({
		type: 'custom', xAxisIndex: h, yAxisIndex: h, clip: true, silent: true, animation: false, z: 1,
		renderItem: function (params, api) {
			const st = steps[params.dataIndex];
			const a = api.coord([st[0], 1]), b = api.coord([st[1], 0]);
			return {type: 'rect', shape: {x: a[0], y: a[1], width: b[0] - a[0] + 1, height: b[1] - a[1]}, style: {fill: velColor((st[0] + st[1]) / 2, p.stops)}};
		},
		data: steps.map(function (st) {
			return [st[0], 1];
		})
	});
	// black lines through the bar at the inner ticks, then its top edge
	const inner = ticks.slice(1, -1);
	series.push({
		type: 'custom', xAxisIndex: h, yAxisIndex: h, clip: true, silent: true, animation: false, z: 2,
		renderItem: function (params, api) {
			const a = api.coord([inner[params.dataIndex], 1]), b = api.coord([inner[params.dataIndex], 0]);
			return {type: 'line', shape: {x1: a[0], y1: a[1], x2: b[0], y2: b[1]}, style: {stroke: params.dataIndex === 0 ? 'rgba(20,20,20,.6)' : '#111', lineWidth: 3}};
		},
		data: inner.map(function (t) {
			return [t, 1];
		})
	});
	series.push({
		type: 'custom', xAxisIndex: h, yAxisIndex: h, clip: false, silent: true, animation: false, z: 2,
		renderItem: function (params, api) {
			const a = api.coord([ticks[0], 1]), b = api.coord([ticks[ticks.length - 1], 1]);
			return {type: 'line', shape: {x1: a[0], y1: a[1], x2: b[0], y2: b[1]}, style: {stroke: '#111', lineWidth: 4}};
		},
		data: [[ticks[0], 1]]
	});
	series.push({
		type: 'custom', xAxisIndex: g, yAxisIndex: g, clip: false, silent: true, animation: false, z: 4,
		renderItem: function (params, api) {
			const a = api.coord([-80, -900]), b = api.coord([360, -900]), c = api.coord([360, -1500]);
			return {type: 'polyline', shape: {points: [a, b, c]}, style: {fill: null, stroke: '#222', lineWidth: 3}};
		},
		data: [[-80, -900]]
	});

	// title and panel tag
	title.push({
		text: p.title, left: centre + (p.col === 1 ? -7 : 0) - 4, top: top - 81, textAlign: 'center',
		textStyle: {fontFamily: FONT, fontSize: 47.6, fontWeight: 'bold', color: '#111'}
	});
	title.push({
		text: '{n|(}{b|' + p.tag + '}{n|)}', left: centre - 37, top: top + 1458, textAlign: 'center',
		textStyle: {
			fontWeight: 'normal',
			rich: {
				n: {fontFamily: '"Liberation Serif", serif', fontSize: 80, fontWeight: 'normal', color: '#000'},
				b: {fontFamily: '"Liberation Serif", serif', fontSize: 80, fontWeight: 'bold', color: '#000'}
			}
		}
	});
});

const chart = echarts.init(document.getElementById('main'), null, {renderer: 'canvas'});
chart.setOption({
	animation: false, backgroundColor: 'transparent', title: title, grid: grid, xAxis: xAxis, yAxis: yAxis, series: series
});
</script>
</body>
</html>
